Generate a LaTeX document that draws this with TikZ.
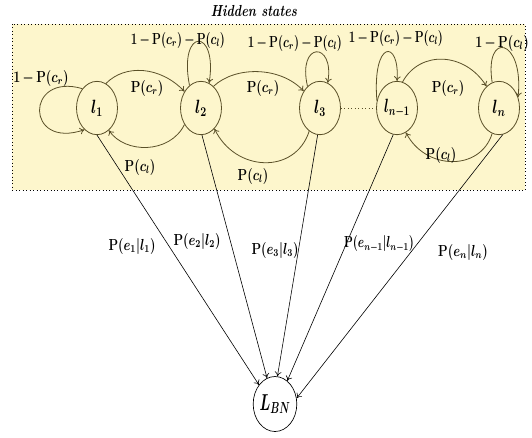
\documentclass[tikz,border=0pt]{standalone}
\usepackage{graphicx}
\usetikzlibrary{shapes.geometric,arrows.meta}
\definecolor{boxfill}{RGB}{253,246,204}
\definecolor{edgec}{RGB}{90,80,40}
\newcommand{\nar}[1]{\scalebox{0.78}[1]{$#1$}}
\newcommand{\narr}[1]{\scalebox{0.72}[1]{$#1$}}
\newcommand{\Prb}{\mathrm{P}}
\begin{document}
\begin{tikzpicture}[x=0.75pt,y=-0.75pt,
  state/.style={ellipse, draw=edgec, line width=0.6pt, minimum width=30.75pt, minimum height=40pt, inner sep=0pt, font=\Large\boldmath},
  tr/.style={draw=edgec, line width=0.6pt, -{To[length=3.5pt,width=5pt]}},
  ev/.style={draw=black, line width=0.45pt, -{To[length=3.5pt,width=5pt]}},
  lab/.style={font=\large\boldmath, inner sep=0pt}]
\useasboundingbox (0,0) rectangle (532,437);
\fill[boxfill] (12,24) rectangle (525,190);
\draw[dotted, line width=0.6pt] (12,24) rectangle (525,190);
\node[font=\large\bfseries\itshape, inner sep=0pt] (title) at (254,11) {\scalebox{0.78}[1]{Hidden states}};
% states
\node[state] (l1) at (97,108) {\nar{l_1}};
\node[state] (l2) at (201,108) {\nar{l_2}};
\node[state] (l3) at (320,108) {\nar{l_3}};
\node[state] (ln1) at (397,108) {\scalebox{0.7}[1]{$l_{n-1}$}};
\node[state] (ln) at (499,108) {\nar{l_n}};
\node[ellipse, draw, line width=0.5pt, minimum width=32.25pt, minimum height=41.25pt, inner sep=0pt, font=\LARGE\boldmath] (LBN) at (275,404) {\scalebox{0.62}[1]{$L_{BN}$}};
% transitions
\draw[tr] (l1.127) .. controls (25,72) and (25,150) .. (l1.-120);
\draw[tr] (l1.70) .. controls (125,64) and (160,66) .. (l2.135);
\draw[tr] (l2.-135) .. controls (170,154) and (125,154) .. (l1.-62);
\draw[tr] (l2.117) .. controls (178,27) and (218,27) .. (l2.72);
\draw[tr] (l2.60) .. controls (235,66) and (280,66) .. (l3.134);
\draw[tr] (l3.-115) .. controls (295,175) and (235,172) .. (l2.-57);
\draw[tr] (l3.120) .. controls (297,41) and (335,41) .. (l3.73);
\draw[dotted, edgec, line width=0.6pt] (l3) -- (ln1);
\draw[tr] (ln1.160) .. controls (372,39) and (400,39) .. (ln1.90);
\draw[tr] (ln1.78) .. controls (420,50) and (465,52) .. (ln.120);
\draw[tr] (ln.105) .. controls (484,30) and (524,38) .. (ln.30);
\draw[tr] (ln.-105) .. controls (480,172) and (425,170) .. (ln1.-70);
% edge labels
\begingroup\medmuskip=3mu
\node[lab] (a1) at (41,78) {\nar{1-\Prb(c_r)}};
\node[lab] (a2) at (147,88) {\nar{\Prb(c_r)}};
\node[lab] (a3) at (140,167) {\nar{\Prb(c_l)}};
\node[lab] (a4) at (178,40) {\narr{1-\Prb(c_r)-\Prb(c_l)}};
\node[lab] (a5) at (263,88) {\nar{\Prb(c_r)}};
\node[lab] (a6) at (253,176) {\nar{\Prb(c_l)}};
\node[lab] (a7) at (295,43) {\narr{1-\Prb(c_r)-\Prb(c_l)}};
\node[lab] (a8) at (396,38) {\narr{1-\Prb(c_r)-\Prb(c_l)}};
\node[lab] (a9) at (448,88) {\nar{\Prb(c_r)}};
\node[lab] (a10) at (441,155) {\nar{\Prb(c_l)}};
\node[lab] (a11) at (502,43) {\nar{1-\Prb(c_l)}};
\endgroup
% evidence
\draw[ev] (l1.south) -- (LBN.130);
\draw[ev] (l2.-88) -- (LBN.107);
\draw[ev] (l3.-95) -- (LBN.85);
\draw[ev] (ln1.-98) -- (LBN.62);
\draw[ev] (ln.-82) -- (LBN.15);
\node[lab] (e1) at (132,246) {\nar{\Prb(e_1|l_1)}};
\node[lab] (e2) at (197,241) {\nar{\Prb(e_2|l_2)}};
\node[lab] (e3) at (275,250) {\nar{\Prb(e_3|l_3)}};
\node[lab] (e4) at (379,244) {\narr{\Prb(e_{n-1}|l_{n-1})}};
\node[lab] (e5) at (463,252) {\nar{\Prb(e_n|l_n)}};
\end{tikzpicture}
\end{document}
